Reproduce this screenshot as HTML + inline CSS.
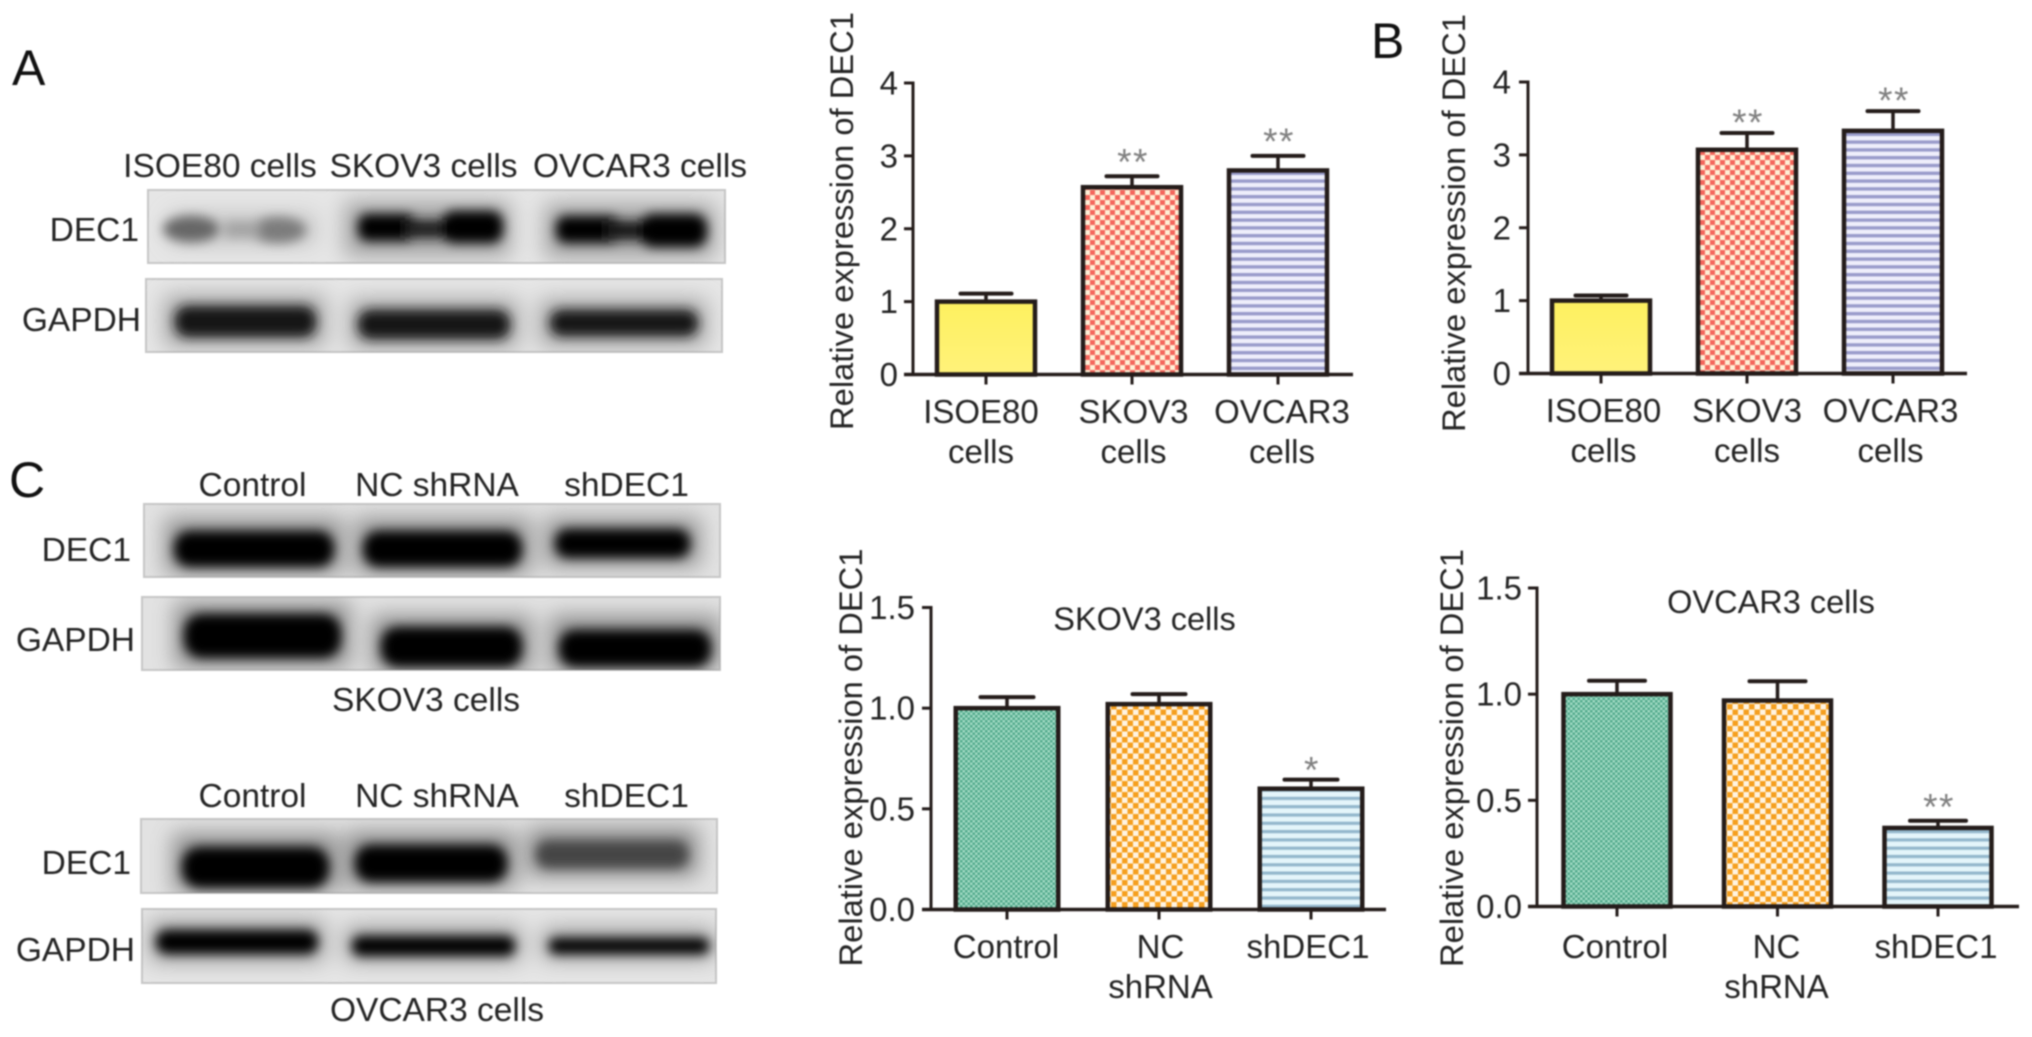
<!DOCTYPE html>
<html lang="en">
<head>
<meta charset="utf-8">
<title>DEC1 expression figure</title>
<style>
html,body{margin:0;padding:0;background:#fff;width:2032px;height:1037px;overflow:hidden}
#figure{display:block;filter:blur(.7px)}
text{font-family:"Liberation Sans",sans-serif;fill:#242424}
.lbl{font-size:33.5px}
.panel{font-size:50px;fill:#111}
</style>
</head>
<body>
<svg id="figure" xmlns="http://www.w3.org/2000/svg" width="2032" height="1037" viewBox="0 0 2032 1037">
<defs>
<filter id="core" x="-30%" y="-80%" width="160%" height="260%"><feGaussianBlur stdDeviation="5.5"/></filter>
<filter id="halo" x="-30%" y="-120%" width="160%" height="340%"><feGaussianBlur stdDeviation="11"/></filter>
<linearGradient id="yellowFill" x1="0" y1="0" x2="0" y2="1"><stop offset="0" stop-color="#fdf05f"/><stop offset="1" stop-color="#fff27a"/></linearGradient>
<pattern id="redCheck" width="10" height="10" patternUnits="userSpaceOnUse"><rect width="10" height="10" fill="#fff0d6"/><rect width="5" height="5" fill="#f4665c"/><rect x="5" y="5" width="5" height="5" fill="#f4665c"/></pattern>
<pattern id="blueStripe" width="8" height="7.8" patternUnits="userSpaceOnUse"><rect width="8" height="7.8" fill="#eeeefb"/><rect width="8" height="3.4" fill="#9a9ccb"/></pattern>
<pattern id="greenCheck" width="5" height="5" patternUnits="userSpaceOnUse"><rect width="5" height="5" fill="#a5dcc6"/><rect width="2.5" height="2.5" fill="#4fa88a"/><rect x="2.5" y="2.5" width="2.5" height="2.5" fill="#4fa88a"/></pattern>
<pattern id="orangeCheck" width="11" height="11" patternUnits="userSpaceOnUse"><rect width="11" height="11" fill="#fff4e2"/><rect width="5.5" height="5.5" fill="#f59f1f"/><rect x="5.5" y="5.5" width="5.5" height="5.5" fill="#f59f1f"/></pattern>
<pattern id="skyStripe" width="8" height="8.3" patternUnits="userSpaceOnUse"><rect width="8" height="8.3" fill="#e4f5fa"/><rect width="8" height="3.2" fill="#93b7cc"/></pattern>
<clipPath id="clipA1"><rect x="148" y="190" width="577" height="73"/></clipPath>
<clipPath id="clipA2"><rect x="146" y="279" width="576" height="73"/></clipPath>
<clipPath id="clipC1"><rect x="144" y="504" width="576" height="73"/></clipPath>
<clipPath id="clipC2"><rect x="142" y="597" width="578" height="73"/></clipPath>
<clipPath id="clipC3"><rect x="141" y="819" width="576" height="74"/></clipPath>
<clipPath id="clipC4"><rect x="142" y="909" width="574" height="74"/></clipPath>
</defs>
<rect width="2032" height="1037" fill="#fff"/>

<text class="panel" x="12" y="85">A</text>
<text class="panel" x="1371" y="58">B</text>
<text class="panel" x="9" y="497">C</text>

<g>
<text class="lbl" x="220" y="177" text-anchor="middle">ISOE80 cells</text>
<text class="lbl" x="423.500" y="177" text-anchor="middle">SKOV3 cells</text>
<text class="lbl" x="640" y="177" text-anchor="middle">OVCAR3 cells</text>
<text class="lbl" x="139" y="241" text-anchor="end">DEC1</text>
<text class="lbl" x="141" y="331" text-anchor="end">GAPDH</text>
</g>

<g>
<rect x="148" y="190" width="577" height="73" fill="#e6e6e6" stroke="#c6c6c6" stroke-width="2"/>
<g clip-path="url(#clipA1)">
<g filter="url(#halo)" fill="#7c7c7c" opacity=".65"><rect x="170" y="214" width="145" height="30" fill="#b0b0b0"/><rect x="345" y="202" width="165" height="54"/><rect x="545" y="204" width="170" height="54"/></g>
<g filter="url(#core)"><ellipse cx="191" cy="229" rx="28" ry="13" fill="#666"/><ellipse cx="278" cy="230" rx="28" ry="13" fill="#7c7c7c"/><rect x="225" y="222" width="35" height="15" fill="#a2a2a2"/><rect x="358" y="214" width="58" height="27" rx="10" fill="#000"/><rect x="405" y="220" width="50" height="18" fill="#1a1a1a"/><rect x="442" y="211" width="61" height="32" rx="12" fill="#000"/><rect x="556" y="216" width="64" height="27" rx="10" fill="#000"/><rect x="605" y="221" width="45" height="19" fill="#181818"/><rect x="640" y="214" width="67" height="33" rx="13" fill="#000"/></g>
</g>
</g>
<g>
<rect x="146" y="279" width="576" height="73" fill="#e6e6e6" stroke="#c6c6c6" stroke-width="2"/>
<g clip-path="url(#clipA2)">
<g filter="url(#halo)" fill="#7c7c7c" opacity=".65"><rect x="165" y="296" width="160" height="50"/><rect x="350" y="300" width="168" height="48"/><rect x="540" y="300" width="166" height="46"/></g>
<g filter="url(#core)" fill="#161616"><rect x="175" y="306" width="141" height="31" rx="13"/><rect x="358" y="310" width="152" height="29" rx="13"/><rect x="550" y="310" width="148" height="26" rx="12"/></g>
</g>
</g>

<g>
<text class="lbl" x="252.500" y="496" text-anchor="middle">Control</text>
<text class="lbl" x="437" y="496" text-anchor="middle">NC shRNA</text>
<text class="lbl" x="626.500" y="496" text-anchor="middle">shDEC1</text>
<text class="lbl" x="131" y="561" text-anchor="end">DEC1</text>
<text class="lbl" x="135" y="651" text-anchor="end">GAPDH</text>
<text class="lbl" x="426" y="711" text-anchor="middle">SKOV3 cells</text>
</g>
<g>
<rect x="144" y="504" width="576" height="73" fill="#e2e2e2" stroke="#c6c6c6" stroke-width="2"/>
<g clip-path="url(#clipC1)">
<g filter="url(#halo)" fill="#6e6e6e" opacity=".7"><rect x="165" y="518" width="178" height="56"/><rect x="355" y="518" width="176" height="56"/><rect x="545" y="518" width="155" height="48"/></g>
<g filter="url(#core)" fill="#000"><rect x="174" y="531" width="160" height="36" rx="16"/><rect x="363" y="531" width="159" height="36" rx="16"/><rect x="555" y="529" width="135" height="29" rx="13"/></g>
</g>
</g>
<g>
<rect x="142" y="597" width="578" height="73" fill="#e2e2e2" stroke="#c6c6c6" stroke-width="2"/>
<g clip-path="url(#clipC2)">
<g filter="url(#halo)" fill="#666" opacity=".7"><rect x="175" y="603" width="175" height="64"/><rect x="372" y="616" width="160" height="56"/><rect x="550" y="616" width="170" height="56"/></g>
<g filter="url(#core)" fill="#000"><rect x="184" y="614" width="157" height="44" rx="18"/><rect x="381" y="627" width="141" height="40" rx="17"/><rect x="559" y="630" width="152" height="37" rx="16"/></g>
</g>
</g>

<g>
<text class="lbl" x="252.500" y="807" text-anchor="middle">Control</text>
<text class="lbl" x="437" y="807" text-anchor="middle">NC shRNA</text>
<text class="lbl" x="626.500" y="807" text-anchor="middle">shDEC1</text>
<text class="lbl" x="131" y="874" text-anchor="end">DEC1</text>
<text class="lbl" x="135" y="961" text-anchor="end">GAPDH</text>
<text class="lbl" x="437" y="1021" text-anchor="middle">OVCAR3 cells</text>
</g>
<g>
<rect x="141" y="819" width="576" height="74" fill="#e2e2e2" stroke="#c6c6c6" stroke-width="2"/>
<g clip-path="url(#clipC3)">
<g filter="url(#halo)" fill="#666" opacity=".7"><rect x="173" y="834" width="165" height="58"/><rect x="346" y="832" width="170" height="56"/><rect x="528" y="828" width="170" height="48"/></g>
<g filter="url(#core)"><rect x="182" y="847" width="147" height="41" rx="18" fill="#000"/><rect x="355" y="845" width="152" height="37" rx="16" fill="#000"/><rect x="536" y="841" width="152" height="27" rx="12" fill="#444"/></g>
</g>
</g>
<g>
<rect x="142" y="909" width="574" height="74" fill="#e6e6e6" stroke="#c6c6c6" stroke-width="2"/>
<g clip-path="url(#clipC4)">
<g filter="url(#halo)" fill="#7c7c7c" opacity=".65"><rect x="150" y="920" width="175" height="42"/><rect x="345" y="926" width="176" height="36"/><rect x="542" y="928" width="172" height="32"/></g>
<g filter="url(#core)" fill="#000"><rect x="156" y="930" width="162" height="24" rx="11"/><rect x="352" y="936" width="163" height="20" rx="9"/><rect x="549" y="938" width="160" height="16" rx="7"/></g>
</g>
</g>

<g id="charts"></g>
</svg>

<script>
// Chart A: DEC1 in ovarian cell lines (panel A)
const chartACategories = [['ISOE80', 'cells'], ['SKOV3', 'cells'], ['OVCAR3', 'cells']];
const chartAValues = [1.0, 2.57, 2.8];
const chartAUpper = [1.11, 2.72, 3.0];
const chartASignificance = ['', '**', '**'];
const chartATicks = ['0', '1', '2', '3', '4'];

// Chart B: DEC1 in ovarian cell lines (panel B)
const chartBCategories = [['ISOE80', 'cells'], ['SKOV3', 'cells'], ['OVCAR3', 'cells']];
const chartBValues = [1.0, 3.07, 3.33];
const chartBUpper = [1.07, 3.3, 3.6];
const chartBSignificance = ['', '**', '**'];
const chartBTicks = ['0', '1', '2', '3', '4'];

// Chart C: knockdown in SKOV3
const chartCCategories = [['Control'], ['NC', 'shRNA'], ['shDEC1']];
const chartCValues = [1.0, 1.02, 0.6];
const chartCUpper = [1.055, 1.07, 0.645];
const chartCSignificance = ['', '', '*'];
const chartCTicks = ['0.0', '0.5', '1.0', '1.5'];

// Chart D: knockdown in OVCAR3
const chartDCategories = [['Control'], ['NC', 'shRNA'], ['shDEC1']];
const chartDValues = [1.0, 0.97, 0.37];
const chartDUpper = [1.063, 1.061, 0.404];
const chartDSignificance = ['', '', '**'];
const chartDTicks = ['0.0', '0.5', '1.0', '1.5'];

const NS = 'http://www.w3.org/2000/svg';
const INK = '#241c1a';
const root = document.getElementById('charts');

function make(parent, tag, attrs, text) {
  const el = document.createElementNS(NS, tag);
  Object.keys(attrs).forEach(function (k) { el.setAttribute(k, attrs[k]); });
  if (text !== undefined) el.textContent = text;
  parent.appendChild(el);
  return el;
}

function drawChart(id, data, box) {
  const maxVal = Number(data.ticks[data.ticks.length - 1]);
  const yScale = function (v) { return box.y0 - (v / maxVal) * (box.y0 - box.yTop); };
  const xScale = function (i) { return box.x0 + i * box.step; };

  const g = make(root, 'g', {});
  
  

  data.values.forEach(function (v, i) {
    const cx = xScale(i);
    const bar = make(g, 'rect', {
      x: cx - box.barW / 2, y: yScale(v), width: box.barW, height: box.y0 - yScale(v),
      fill: 'url(#' + box.fills[i] + ')', stroke: INK, 'stroke-width': 4.5
    });
    
    

    const stem = make(g, 'line', {
      x1: cx, x2: cx, y1: yScale(v), y2: yScale(data.upper[i]), stroke: INK, 'stroke-width': 3.5
    });
    
    

    const cap = make(g, 'line', {
      x1: cx - box.capW / 2, x2: cx + box.capW / 2, y1: yScale(data.upper[i]), y2: yScale(data.upper[i]),
      stroke: INK, 'stroke-width': 4, 'stroke-linecap': 'round'
    });
    
    

    if (data.significance[i]) {
      const star = make(g, 'text', {
        x: cx + 1, y: yScale(data.upper[i]) - box.starGap + 17, 'text-anchor': 'middle',
        'font-size': 37, 'letter-spacing': '1.5px', style: 'fill:#808080'
      }, data.significance[i]);
      
      
    }

    const tick = make(g, 'line', {
      x1: cx, x2: cx, y1: box.y0, y2: box.y0 + 10, stroke: INK, 'stroke-width': 3
    });
    
    

    data.categories[i].forEach(function (line, k) {
      const label = make(g, 'text', {
        x: cx + box.labelShift[i], y: box.labelY + k * box.lineGap, 'text-anchor': 'middle', 'font-size': 33
      }, line);
      
      
    });
  });

  const yAxis = make(g, 'line', {
    x1: box.axisX, x2: box.axisX, y1: box.yTop - 1.5, y2: box.y0, stroke: INK, 'stroke-width': 3
  });
  
  

  const xAxis = make(g, 'line', {
    x1: box.axisX - 9, x2: box.xEnd, y1: box.y0, y2: box.y0, stroke: INK, 'stroke-width': 3.5
  });
  
  

  data.ticks.forEach(function (t) {
    const y = yScale(Number(t));
    const mark = make(g, 'line', {
      x1: box.axisX - 9, x2: box.axisX, y1: y, y2: y, stroke: INK, 'stroke-width': 3
    });
    
    
    const label = make(g, 'text', {
      x: box.tickRight, y: y + 11.5, 'text-anchor': 'end', 'font-size': 33
    }, t);
    
    
  });

  const yTitle = make(g, 'text', {
    transform: 'translate(' + box.titleX + ',' + box.titleY + ') rotate(-90)',
    'text-anchor': 'middle', 'font-size': 32.7
  }, 'Relative expression of DEC1');
  
  

  if (box.heading) {
    const heading = make(g, 'text', {
      x: box.headingX, y: box.headingY, 'text-anchor': 'middle', 'font-size': 32.5
    }, box.heading);
    
    
  }
}

drawChart('chart-a', {
  categories: chartACategories, values: chartAValues, upper: chartAUpper,
  significance: chartASignificance, ticks: chartATicks
}, {
  x0: 986, step: 146, barW: 98, capW: 51, y0: 374.5, yTop: 83, axisX: 913, xEnd: 1353,
  tickRight: 898, labelY: 423, lineGap: 40, labelShift: [-5, 1.5, 4], titleX: 853, titleY: 221,
  starGap: 19, fills: ['yellowFill', 'redCheck', 'blueStripe']
});

drawChart('chart-b', {
  categories: chartBCategories, values: chartBValues, upper: chartBUpper,
  significance: chartBSignificance, ticks: chartBTicks
}, {
  x0: 1601, step: 146, barW: 98, capW: 51, y0: 373.5, yTop: 82, axisX: 1528, xEnd: 1967,
  tickRight: 1511, labelY: 422, lineGap: 40, labelShift: [2.5, 0, -2.5], titleX: 1465, titleY: 223,
  starGap: 15, fills: ['yellowFill', 'redCheck', 'blueStripe']
});

drawChart('chart-c', {
  categories: chartCCategories, values: chartCValues, upper: chartCUpper,
  significance: chartCSignificance, ticks: chartCTicks
}, {
  x0: 1007, step: 152, barW: 102.5, capW: 53, y0: 909.5, yTop: 607.5, axisX: 931, xEnd: 1386,
  tickRight: 915, labelY: 958, lineGap: 40, labelShift: [-1, 1.5, -3], titleX: 862, titleY: 757.5,
  starGap: 14, fills: ['greenCheck', 'orangeCheck', 'skyStripe'],
  heading: 'SKOV3 cells', headingX: 1144.5, headingY: 630
});

drawChart('chart-d', {
  categories: chartDCategories, values: chartDValues, upper: chartDUpper,
  significance: chartDSignificance, ticks: chartDTicks
}, {
  x0: 1617, step: 160.5, barW: 107, capW: 56, y0: 906.5, yTop: 588, axisX: 1537, xEnd: 2019,
  tickRight: 1522, labelY: 958, lineGap: 40, labelShift: [-2, -1, -2], titleX: 1463, titleY: 758,
  starGap: 18, fills: ['greenCheck', 'orangeCheck', 'skyStripe'],
  heading: 'OVCAR3 cells', headingX: 1771, headingY: 613
});
</script>
</body>
</html>
